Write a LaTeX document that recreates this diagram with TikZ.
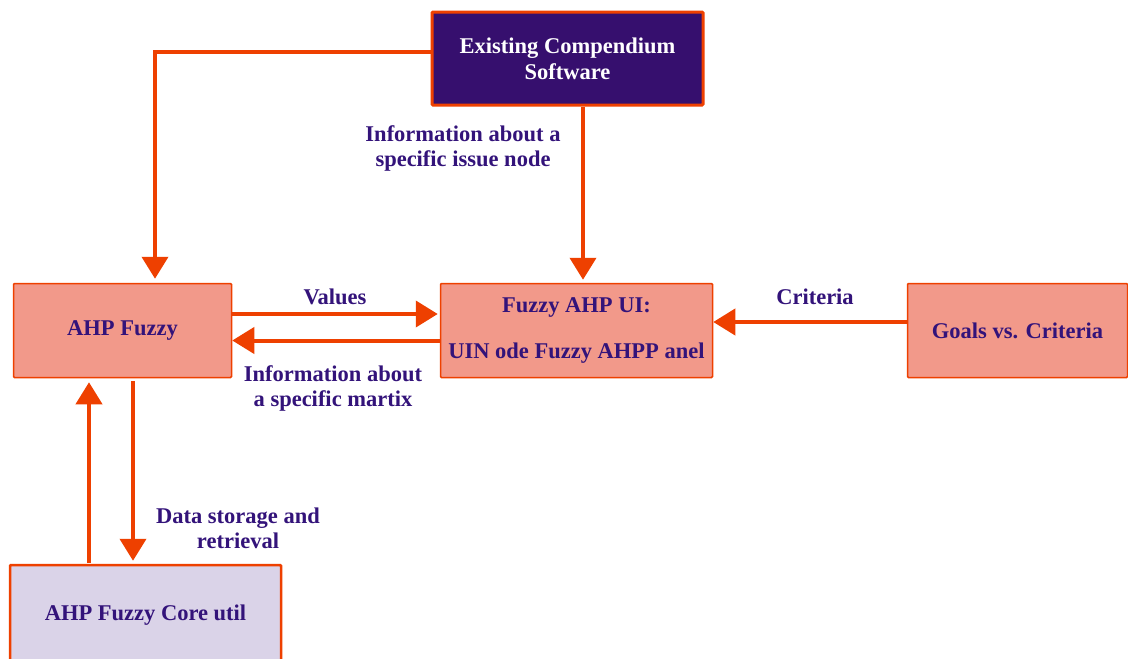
\documentclass[tikz,border=0pt]{standalone}
\usepackage{fontspec}
\setmainfont{Liberation Serif}
\usetikzlibrary{arrows.meta}
\definecolor{arr}{HTML}{EE4000}
\definecolor{txt}{HTML}{33137A}
\definecolor{salmon}{HTML}{F2998A}
\definecolor{dpurple}{HTML}{360F6E}
\definecolor{lav}{HTML}{DAD3E8}
\begin{document}
\begin{tikzpicture}[x=1pt,y=-1pt,
  box/.style={draw=arr, line width=1.5pt, fill=salmon, text=txt,
    font=\bfseries\fontsize{22.5}{26}\selectfont, align=center, inner sep=0pt, rounded corners=1pt},
  lbl/.style={text=txt, font=\bfseries\fontsize{22.5}{25}\selectfont, align=center, inner sep=0pt},
  link/.style={draw=arr, line width=4pt, -{Triangle[length=22pt,width=26pt]}}]
\clip (0,0) rectangle (1128,659);
\fill[white] (0,0) rectangle (1128,659);
\node[box, fill=dpurple, text=white, line width=3pt, minimum width=271pt, minimum height=93pt] (ex) at (567.5,58.5) {Existing Compendium\\Software};
\node[box, minimum width=218pt, minimum height=94pt] (ahp) at (122.5,330.5) {AHP Fuzzy};
\node[box, minimum width=272pt, minimum height=94pt] (ui) at (576.5,330.5) {Fuzzy AHP UI:\\[20pt]UIN ode Fuzzy AHPP anel};
\node[box, minimum width=220pt, minimum height=94pt] (goals) at (1017.5,330.5) {Goals vs. Criteria};
\node[box, fill=lav, line width=2.5pt, minimum width=271pt, minimum height=100pt] (core) at (145.5,615) {AHP Fuzzy Core util};

\draw[link, shorten >=4pt] ([yshift=6.5pt]ex.west) -| ([xshift=32.5pt]ahp.north);
\draw[link, shorten >=3pt] ([xshift=15.5pt]ex.south) -- ([xshift=6.5pt]ui.north);
\draw[link, shorten >=2pt] ([yshift=16.5pt]ahp.east) -- ([yshift=16.5pt]ui.west);
\draw[link] ([yshift=-10pt]ui.west) -- ([yshift=-10pt]ahp.east);
\draw[link] ([yshift=8.5pt]goals.west) -- ([yshift=8.5pt]ui.east);
\draw[link, shorten >=4pt, shorten <=1pt] ([xshift=-56.5pt]core.north) -- ([xshift=-33.5pt]ahp.south);
\draw[link, shorten <=3pt, shorten >=3pt] ([xshift=10.5pt]ahp.south) -- ([xshift=-12.5pt]core.north);

\node[lbl] (l1) at (463,148) {Information about a\\specific issue node};
\node[lbl] (l2) at (335,297) {Values};
\node[lbl] (l3) at (333,388) {Information about\\a specific martix};
\node[lbl] (l4) at (815,297) {Criteria};
\node[lbl] (l5) at (238,528) {Data storage and\\retrieval};
\end{tikzpicture}
\end{document}
